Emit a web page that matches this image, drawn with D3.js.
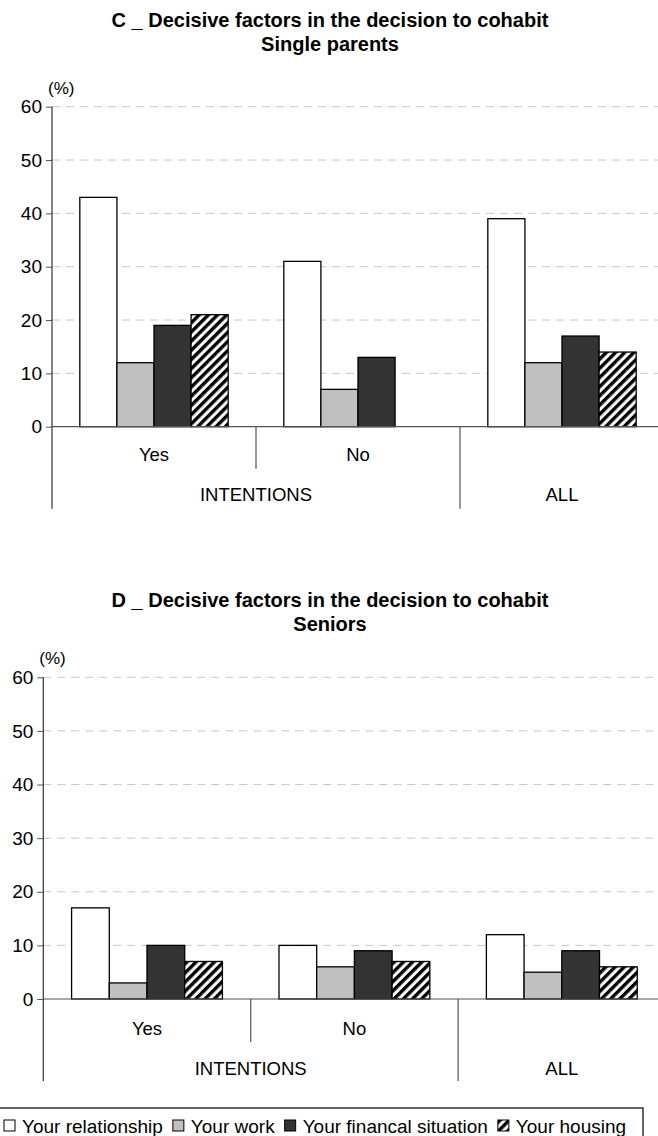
<!DOCTYPE html>
<html>
<head>
<meta charset="utf-8">
<script src="https://cdn.jsdelivr.net/npm/d3@7"></script>
<style>
    body { margin: 0; background: #fff; }
    svg text { font-family: "Liberation Sans", Arial, sans-serif; fill: #000; }
</style>
</head>
<body>
<div class="chart_area"></div>
<script>

var groups = ["Yes", "No", "ALL"];
var factors = ["Your relationship", "Your work", "Your financal situation", "Your housing"];
var yTicks = [0, 10, 20, 30, 40, 50, 60];

// C - single parents
var singleYes = [43, 12, 19, 21];
var singleNo = [31, 7, 13, null];
var singleAll = [39, 12, 17, 14];

// D - seniors
var seniorYes = [17, 3, 10, 7];
var seniorNo = [10, 6, 9, 7];
var seniorAll = [12, 5, 9, 6];

var fills = ["#ffffff", "#c0c0c0", "#333333", "url(#hatch)"];

var div_width = 658;
var div_height = 1136;

var svg = d3.select(".chart_area").append("svg")
    .attr("width", div_width)
    .attr("height", div_height);

var defs = svg.append("defs");
var pat = defs.append("pattern")
    .attr("id", "hatch")
    .attr("patternUnits", "userSpaceOnUse")
    .attr("width", 6.5)
    .attr("height", 6.5)
    .attr("patternTransform", "rotate(45)");
pat.append("rect").attr("width", 6.5).attr("height", 6.5).attr("fill", "#fff");
pat.append("rect").attr("width", 3.4).attr("height", 6.5).attr("fill", "#000");

function drawChart(opt) {

    var values = [opt.yes, opt.no, opt.all];

    var y = d3.scaleLinear().domain([0, 60]).range([opt.y0, opt.y60]);
    var x0 = d3.scaleBand().domain(groups).range([opt.left, opt.right]).padding(0);
    var x1 = d3.scaleBand().domain(factors).range([0, x0.bandwidth()])
        .paddingInner(0).paddingOuter(0.75);

    var g = svg.append("g");

    // titles
    g.append("text")
        .attr("x", 330).attr("y", opt.titleY)
        .attr("dy", "0.35em")
        .attr("text-anchor", "middle")
        .style("font-size", "20px").style("font-weight", "bold")
        .text(opt.title);
    g.append("text")
        .attr("x", 330).attr("y", opt.titleY + 24)
        .attr("dy", "0.35em")
        .attr("text-anchor", "middle")
        .style("font-size", "20px").style("font-weight", "bold")
        .text(opt.subtitle);

    g.append("text")
        .attr("x", opt.left - 4).attr("y", y(60) - 19)
        .attr("dy", "0.35em")
        .style("font-size", "17px")
        .text("(%)");

    // grid
    g.selectAll(".grid").data(yTicks.filter(function (d) { return d > 0; }))
        .enter().append("line")
        .attr("x1", opt.left).attr("x2", div_width)
        .attr("y1", function (d) { return y(d); })
        .attr("y2", function (d) { return y(d); })
        .attr("stroke", "#c8c8c8")
        .attr("stroke-width", 1)
        .attr("stroke-dasharray", "8,6");

    // y axis
    var yAxis = d3.axisLeft(y).tickValues(yTicks).tickSize(6).tickPadding(4);
    var ya = g.append("g")
        .attr("transform", "translate(" + opt.left + ",0)")
        .call(yAxis);
    ya.select(".domain").remove();
    ya.selectAll(".tick line").attr("stroke", "#555");
    ya.selectAll(".tick text").style("font-size", "19px").style("font-family", "Liberation Sans, Arial, sans-serif");

    // bars
    groups.forEach(function (grp, gi) {
        var bg = g.append("g").attr("transform", "translate(" + x0(grp) + ",0)");
        bg.selectAll("rect")
            .data(values[gi].map(function (v, i) { return { f: factors[i], v: v, i: i }; })
                .filter(function (d) { return d.v !== null; }))
            .enter().append("rect")
            .attr("x", function (d) { return x1(d.f); })
            .attr("width", x1.bandwidth())
            .attr("y", function (d) { return y(d.v); })
            .attr("height", function (d) { return y(0) - y(d.v); })
            .attr("fill", function (d) { return fills[d.i]; })
            .attr("stroke", "#000")
            .attr("stroke-width", 1.3);
    });

    // x axis line
    g.append("line")
        .attr("x1", opt.left).attr("x2", div_width)
        .attr("y1", y(0)).attr("y2", y(0))
        .attr("stroke", "#555").attr("stroke-width", 1.2);

    // y axis line, down through the category labels
    g.append("line")
        .attr("x1", opt.left).attr("x2", opt.left)
        .attr("y1", y(60)).attr("y2", y(0) + opt.lowBottom)
        .attr("stroke", "#333").attr("stroke-width", 1.2);

    // category dividers
    g.append("line")
        .attr("x1", x0("No")).attr("x2", x0("No"))
        .attr("y1", y(0)).attr("y2", y(0) + opt.midBottom)
        .attr("stroke", "#555").attr("stroke-width", 1.2);
    g.append("line")
        .attr("x1", x0("ALL")).attr("x2", x0("ALL"))
        .attr("y1", y(0)).attr("y2", y(0) + opt.lowBottom)
        .attr("stroke", "#555").attr("stroke-width", 1.2);

    // category labels
    g.selectAll(".cat").data(groups).enter().append("text")
        .attr("x", function (d) { return x0(d) + x0.bandwidth() / 2; })
        .attr("y", function (d) { return d == "ALL" ? y(0) + opt.lowLabel : y(0) + opt.midLabel; })
        .attr("dy", "0.35em")
        .attr("text-anchor", "middle")
        .style("font-size", "18.5px")
        .text(function (d) { return d; });

    g.append("text")
        .attr("x", x0("No"))
        .attr("y", y(0) + opt.lowLabel)
        .attr("dy", "0.35em")
        .attr("text-anchor", "middle")
        .style("font-size", "18.5px")
        .text("INTENTIONS");
}

drawChart({
    title: "C _ Decisive factors in the decision to cohabit",
    subtitle: "Single parents",
    titleY: 20,
    yes: singleYes, no: singleNo, all: singleAll,
    left: 52, right: 664,
    y0: 426.7, y60: 106.7,
    midLabel: 28, midBottom: 42, lowLabel: 68, lowBottom: 82
});

drawChart({
    title: "D _ Decisive factors in the decision to cohabit",
    subtitle: "Seniors",
    titleY: 600,
    yes: seniorYes, no: seniorNo, all: seniorAll,
    left: 43.3, right: 665.5,
    y0: 999, y60: 677.3,
    midLabel: 30, midBottom: 43, lowLabel: 70, lowBottom: 82
});

// legend
var leg = svg.append("g");
leg.append("rect")
    .attr("x", -1).attr("y", 1108)
    .attr("width", 644).attr("height", 50)
    .attr("fill", "#fff")
    .attr("stroke", "#000").attr("stroke-width", 1.2);

var lx = 4;
factors.forEach(function (f, i) {
    leg.append("rect")
        .attr("x", lx).attr("y", 1120)
        .attr("width", 11).attr("height", 11)
        .attr("fill", fills[i])
        .attr("stroke", "#000").attr("stroke-width", 1);
    var t = leg.append("text")
        .attr("x", lx + 18).attr("y", 1126)
        .attr("dy", "0.35em")
        .style("font-size", "19px")
        .text(f);
    lx = lx + 18 + t.node().getComputedTextLength() + 10;
});

</script>
</body>
</html>
